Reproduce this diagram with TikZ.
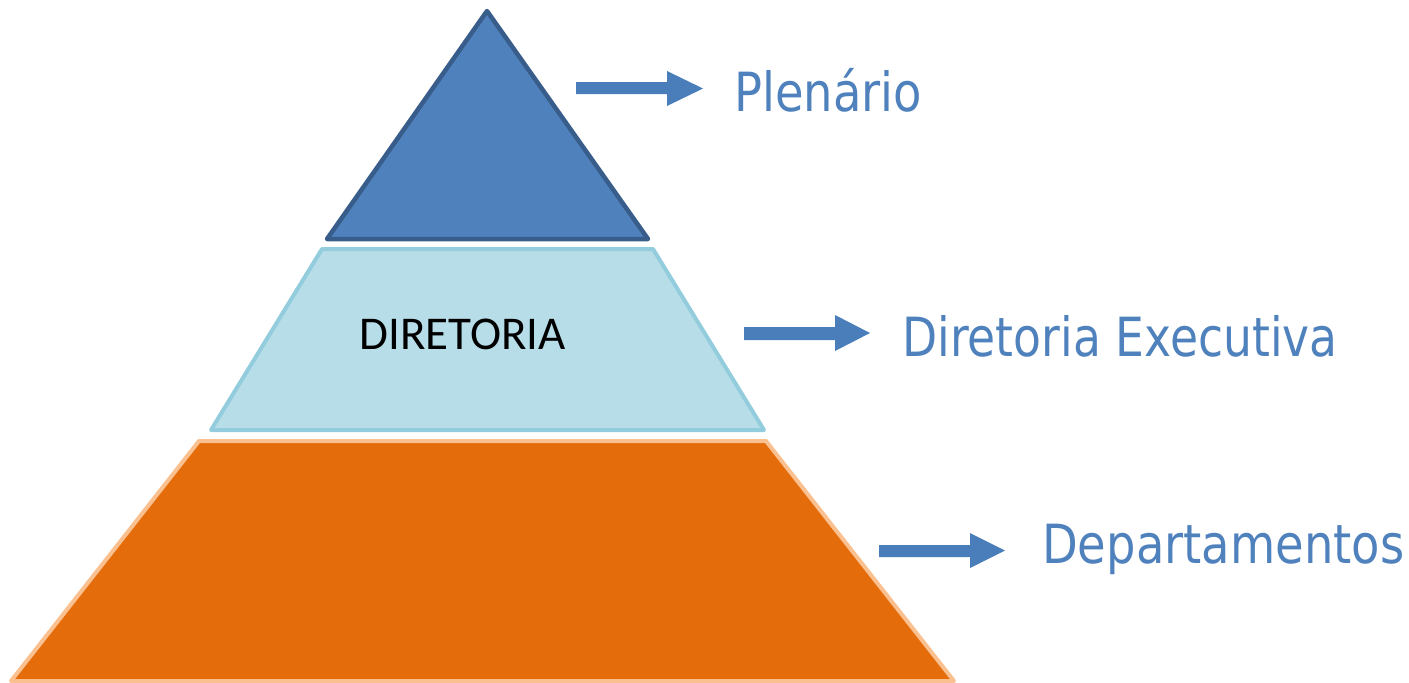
\documentclass[tikz,border=0pt]{standalone}
\usepackage{fontspec}
\newfontfamily\lab[FakeStretch=0.86]{DejaVu Sans}
\newfontfamily\labnarrow[FakeStretch=0.845]{DejaVu Sans}
\newfontfamily\inner{Carlito}
\definecolor{tblue}{HTML}{4F81BD}
\definecolor{tbluedark}{HTML}{385D8A}
\definecolor{lblue}{HTML}{B7DEE8}
\definecolor{lbluedark}{HTML}{93CDDD}
\definecolor{orng}{HTML}{E46C0A}
\definecolor{orngline}{HTML}{FAC090}
\definecolor{arrblue}{HTML}{4A7EBB}
\tikzset{
  level/.style={line width=4.5pt, line join=round},
  blockarrow/.style={fill=arrblue, draw=none},
  label/.style={anchor=base west, inner sep=0pt, text=tblue, font=\lab\fontsize{54}{60}\selectfont},
}
\begin{document}
\begin{tikzpicture}[x=1pt,y=-1pt]
\useasboundingbox (0,0) rectangle (1409,683);
% levels
\draw[level, fill=tblue, draw=tbluedark] (487,11) -- (648,239) -- (327,239) -- cycle;
\draw[level, line width=4pt, fill=lblue, draw=lbluedark] (322,249) -- (653,249) -- (764,430) -- (211,430) -- cycle;
\draw[level, line width=4pt, fill=orng, draw=orngline] (199,441) -- (766,441) -- (954,681) -- (11,681) -- cycle;
\node[anchor=base, inner sep=0pt, font=\inner\fontsize{47}{50}\selectfont] (dir) at (462.5,349) {DIRETORIA};
% arrows
\fill[blockarrow] (576,82) -- (667,82) -- (667,71) -- (703,88.5) -- (667,106) -- (667,94) -- (576,94) -- cycle;
\fill[blockarrow] (744,327) -- (835,327) -- (835,315) -- (870,333) -- (835,351) -- (835,340) -- (744,340) -- cycle;
\fill[blockarrow] (879,545) -- (970,545) -- (970,533) -- (1005,550.5) -- (970,568) -- (970,557) -- (879,557) -- cycle;
% labels
\node[label] (plen) at (734,111) {Plenário};
\node[label, font=\labnarrow\fontsize{54}{60}\selectfont] (dex) at (902,356) {Diretoria Executiva};
\node[label] (dep) at (1042,563) {Departamentos};
\end{tikzpicture}
\end{document}
